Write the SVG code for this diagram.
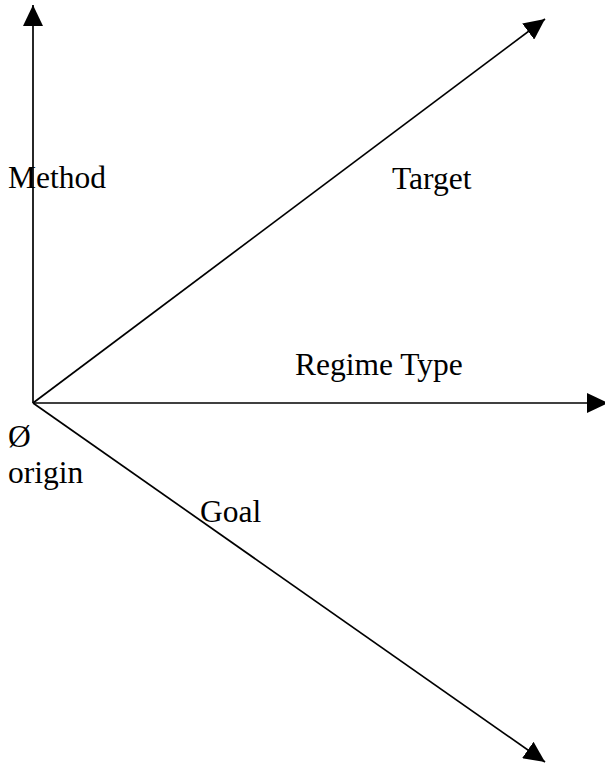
<svg xmlns="http://www.w3.org/2000/svg" width="605" height="763" viewBox="0 0 605 763">
<defs>
<marker id="ah" markerWidth="21" markerHeight="20" refX="21" refY="10" orient="auto" markerUnits="userSpaceOnUse" viewBox="0 0 21 20">
<path d="M0,0 L21,10 L0,20 Z" fill="#000"/>
</marker>
<style>
.ax{stroke:#000;stroke-width:1.7;fill:none}
.lb{font-family:"Liberation Serif","Times New Roman","DejaVu Serif",serif;font-size:31.5px;fill:#000}
</style>
</defs>
<rect width="605" height="763" fill="#fff"/>
<g id="connectors">
<line class="ax" x1="33" y1="403" x2="33" y2="5" marker-end="url(#ah)"/>
<line class="ax" x1="33" y1="403" x2="545" y2="19" marker-end="url(#ah)"/>
<line class="ax" x1="33" y1="403" x2="608" y2="403" marker-end="url(#ah)"/>
<line class="ax" x1="33" y1="403" x2="545" y2="762" marker-end="url(#ah)"/>
</g>
<g id="method"><text class="lb" x="8" y="188">Method</text></g>
<g id="target"><text class="lb" x="392" y="189">Target</text></g>
<g id="regime"><text class="lb" x="295" y="375">Regime Type</text></g>
<g id="origin"><text class="lb" x="8" y="447">Ø</text><text class="lb" x="8" y="483">origin</text></g>
<g id="goal"><text class="lb" x="200" y="522">Goal</text></g>
</svg>
